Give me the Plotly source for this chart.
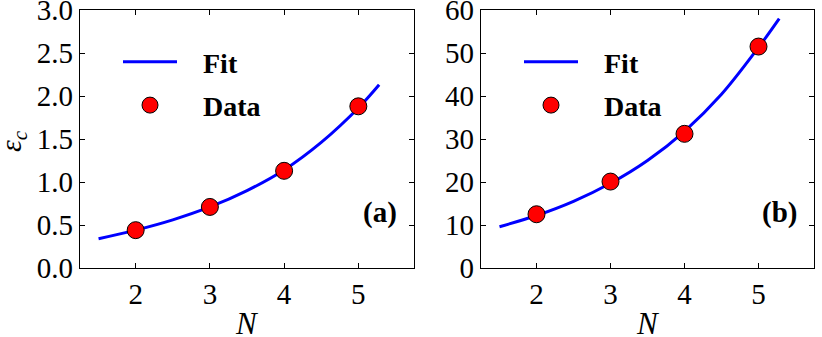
import plotly.graph_objects as go

# Data
N_data = [2, 3, 4, 5]
eps_a = [0.44, 0.71, 1.13, 1.88]
eps_b = [12.5, 20.1, 31.2, 51.5]

# Fit curves
N_fit = [1.5, 2.0, 2.5, 3.0, 3.5, 4.0, 4.5, 5.0, 5.28]
fit_a = [0.34, 0.44, 0.56, 0.71, 0.90, 1.14, 1.46, 1.86, 2.13]
fit_b = [9.6, 12.2, 15.5, 19.7, 25.0, 31.8, 40.4, 51.3, 58.0]

x_ticks = [2, 3, 4, 5]
ya_ticks = [0.0, 0.5, 1.0, 1.5, 2.0, 2.5, 3.0]
yb_ticks = [0, 10, 20, 30, 40, 50, 60]
panel_labels = ["(a)", "(b)"]
legend_names = ["Fit", "Data"]

FONT = "'Liberation Serif', 'Times New Roman', serif"
BLUE = "#0000ff"
RED = "#ff0000"
GAP = "\u00a0\u00a0\u00a0"

fig = go.Figure()

for i, (fit, dat) in enumerate([(fit_a, eps_a), (fit_b, eps_b)]):
    xa = "x" if i == 0 else "x2"
    ya = "y" if i == 0 else "y2"
    lg = "legend" if i == 0 else "legend2"
    fig.add_trace(go.Scatter(
        x=N_fit, y=fit, mode="lines", name=f"{GAP}<b>{legend_names[0]}</b>",
        line=dict(color=BLUE, width=3, shape="spline"),
        xaxis=xa, yaxis=ya, legend=lg, legendgroup=f"fit{i}",
    ))
    fig.add_trace(go.Scatter(
        x=N_data, y=dat, mode="markers", name=f"{GAP}<b>{legend_names[1]}</b>",
        marker=dict(color=RED, size=17, line=dict(color="black", width=1)),
        xaxis=xa, yaxis=ya, legend=lg, legendgroup=f"dat{i}",
    ))

W, H = 822, 337
dom_xa = [80 / W, 414 / W]
dom_xb = [481 / W, 814 / W]
dom_y = [(H - 268) / H, (H - 10) / H]

axis_common = dict(
    showline=True, linecolor="black", linewidth=1.3, mirror="ticks",
    ticks="inside", ticklen=5, tickwidth=1, tickcolor="black",
    showgrid=False, zeroline=False, automargin=False,
    ticklabeloverflow="allow",
    tickfont=dict(family=FONT, size=29, color="black"),
)

leg_common = dict(
    xanchor="left", yanchor="top",
    bgcolor="rgba(0,0,0,0)", font=dict(family=FONT, size=28, color="black"),
    tracegroupgap=4, itemwidth=54,
)

fig.update_layout(
    width=W, height=H,
    margin=dict(l=0, r=0, t=0, b=0, autoexpand=False),
    paper_bgcolor="white", plot_bgcolor="white",
    font=dict(family=FONT, color="black"),
    xaxis=dict(domain=dom_xa, range=[1.25, 5.75], tickvals=x_ticks, anchor="y", **axis_common),
    yaxis=dict(domain=dom_y, range=[0, 3.0], tickvals=ya_ticks, tickformat=".1f", anchor="x", **axis_common),
    xaxis2=dict(domain=dom_xb, range=[1.25, 5.75], tickvals=x_ticks, anchor="y2", **axis_common),
    yaxis2=dict(domain=dom_y, range=[0, 60], tickvals=yb_ticks, anchor="x2", **axis_common),
    legend=dict(x=dom_xa[0] + 38 / W, y=dom_y[1] - 27 / H, **leg_common),
    legend2=dict(x=dom_xb[0] + 38 / W, y=dom_y[1] - 27 / H, **leg_common),
    showlegend=True,
)

annotations = []
for i, lab in enumerate(panel_labels):
    xr = "x domain" if i == 0 else "x2 domain"
    yr = "y domain" if i == 0 else "y2 domain"
    annotations.append(dict(
        text=f"<b>{lab}</b>", xref=xr, yref=yr, x=0.955, y=0.217,
        xanchor="right", yanchor="middle", showarrow=False,
        font=dict(family=FONT, size=29, color="black"),
    ))
    annotations.append(dict(
        text="<i>N</i>", xref=xr, yref="paper", x=0.5, y=(H - 323) / H,
        xanchor="center", yanchor="middle", showarrow=False,
        font=dict(family=FONT, size=31, color="black"),
    ))
annotations.append(dict(
    text="<i>ε</i><sub><i>c</i></sub>", xref="paper", yref="paper",
    x=13 / W, y=(H - 141) / H, textangle=-90,
    xanchor="center", yanchor="middle", showarrow=False,
    font=dict(family=FONT, size=30, color="black"),
))
fig.update_layout(annotations=annotations)

fig.write_html("out.html", config={"displayModeBar": False},
               post_script="document.body.style.margin='0';")
